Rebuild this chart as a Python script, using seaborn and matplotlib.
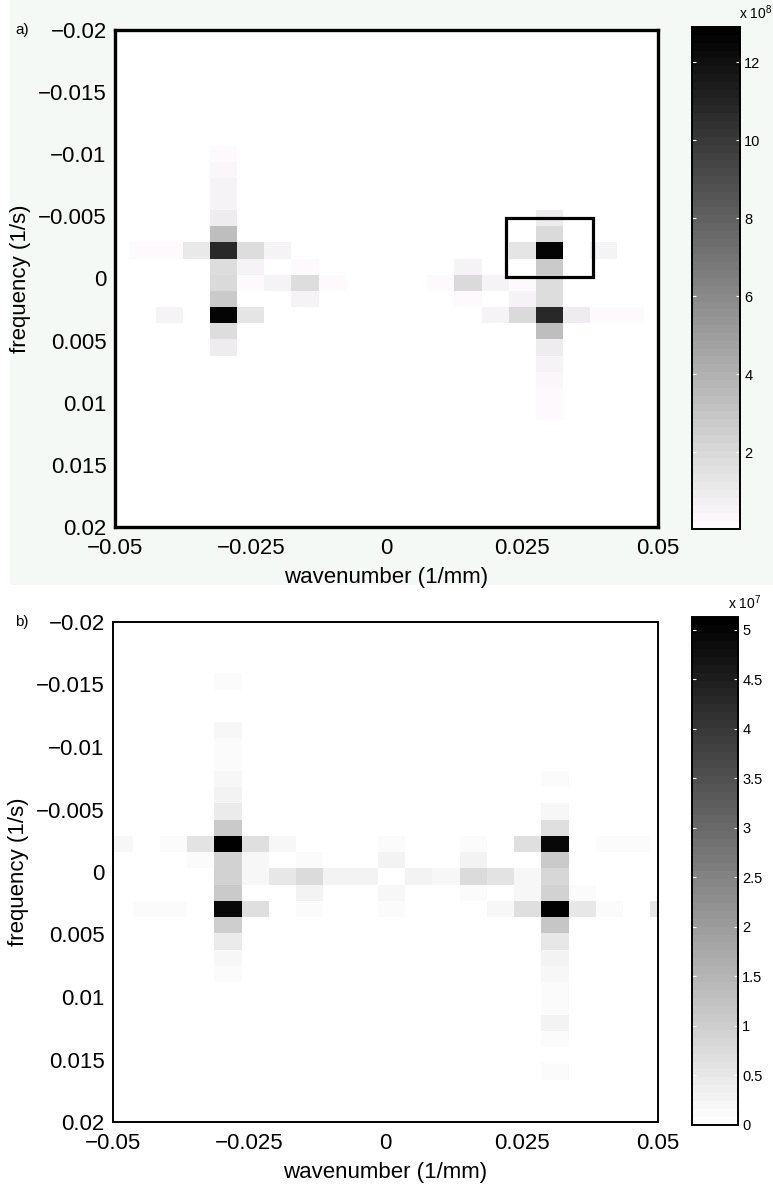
import numpy as np
import pandas as pd
import matplotlib
matplotlib.use("Agg")
import matplotlib.pyplot as plt
import seaborn as sns
from matplotlib.colors import ListedColormap
from matplotlib.patches import Rectangle

plt.rcParams['font.family'] = ['Liberation Sans', 'DejaVu Sans']
plt.rcParams['mathtext.fontset'] = 'custom'
plt.rcParams['mathtext.rm'] = 'Liberation Sans'
plt.rcParams['axes.unicode_minus'] = True

# ---------------- grid definition ----------------
k_index = np.arange(-10, 11)          # wavenumber bin index
n_index = np.arange(-16, 16)          # frequency bin index
wn_step = 0.005                       # 1/mm
fq_step = 0.0013                      # 1/s
fq_offset = 0.00035
wn_offset_a = 0.0
wn_offset_b = 0.0011

x_ticks = [-0.05, -0.025, 0, 0.025, 0.05]
x_tick_labels = ["\u22120.05", "\u22120.025", "0", "0.025", "0.05"]
y_ticks = [-0.02, -0.015, -0.01, -0.005, 0, 0.005, 0.01, 0.015, 0.02]
y_tick_labels = ["\u22120.02", "\u22120.015", "\u22120.01", "\u22120.005", "0",
                 "0.005", "0.01", "0.015", "0.02"]

# ---------------- panel a (x 1e8) ----------------
a_k = [-6, -6, -6, -6, -6, -6, -6, -6, -6, -6, -6, -6, -6,
       -9, -8, -7, -5, -4,
       -5, -3,
       -5, -4, -3, -2,
       -3,
       -8, -5,
       6, 6, 6, 6, 6, 6, 6, 6, 6, 6, 6, 6, 6,
       5, 8,
       3,
       2, 3, 4, 5,
       3, 5,
       4, 5, 7, 8, 9]
a_n = [-8, -7, -6, -5, -4, -3, -2, -1, 0, 1, 2, 3, 4,
       -2, -2, -2, -2, -2,
       -1, -1,
       0, 0, 0, 0,
       1,
       2, 2,
       -4, -3, -2, -1, 0, 1, 2, 3, 4, 5, 6, 7, 8,
       -2, -2,
       -1,
       0, 0, 0, 0,
       1, 1,
       2, 2, 2, 2, 2]
a_amp = [0.2, 0.25, 0.6, 0.6, 1.0, 3.3, 10.8, 1.8, 1.9, 2.8, 12.6, 1.8, 1.0,
         0.2, 0.2, 1.1, 1.8, 0.5,
         0.5, 0.2,
         0.2, 0.5, 1.8, 0.2,
         0.5,
         0.5, 1.3,
         1.0, 2.0, 12.6, 2.8, 1.8, 1.8, 10.8, 3.4, 1.0, 0.6, 0.3, 0.2, 0.2,
         1.4, 0.5,
         0.5,
         0.2, 1.9, 0.45, 0.2,
         0.2, 0.45,
         0.45, 1.9, 1.0, 0.2, 0.2]
a_vmin, a_vmax = 0.03, 12.9
a_cbar_ticks = [2, 4, 6, 8, 10, 12]
a_box_wn = (0.022, 0.038)
a_box_fq = (-0.0049, -0.0001)

# ---------------- panel b (x 1e7) ----------------
b_k = [-6] * 17 + [-10, -8, -7, -5, -4, 0, 3, 5, 8, 9,
                   -7, -5, -3, 0, 3,
                   -5, -4, -3, -2, -1, 1, 2, 3, 4, 5,
                   -3, 0, 3, 5, 7,
                   -9, -8, -5, -3, 0, 4, 5, 7, 8, 10] + [6] * 17
b_n = [-12, -9, -8, -7, -6, -5, -4, -3, -2, -1, 0, 1, 2, 3, 4, 5, 6] + \
      [-2] * 10 + [-1] * 5 + [0] * 10 + [1] * 5 + [2] * 10 + \
      [-6, -4, -3, -2, -1, 0, 1, 2, 3, 4, 5, 6, 7, 8, 9, 10, 12]
b_amp = [0.14, 0.2, 0.1, 0.1, 0.2, 0.3, 0.45, 1.1, 5.13, 0.95, 0.9, 1.1, 4.9, 1.0, 0.45, 0.2, 0.12,
         0.2, 0.1, 0.6, 0.7, 0.2, 0.1, 0.1, 0.7, 0.1, 0.1,
         0.1, 0.2, 0.1, 0.25, 0.3,
         0.2, 0.55, 0.8, 0.25, 0.3, 0.3, 0.2, 0.8, 0.6, 0.2,
         0.25, 0.2, 0.1, 0.2, 0.1,
         0.1, 0.1, 0.7, 0.1, 0.1, 0.2, 0.7, 0.55, 0.1, 0.5,
         0.1, 0.2, 0.7, 4.9, 1.1, 0.85, 0.9, 5.13, 1.15, 0.5, 0.25, 0.2, 0.15, 0.15, 0.3, 0.1, 0.12]
b_vmin, b_vmax = 0.0, 5.13
b_cbar_ticks = [0, 0.5, 1, 1.5, 2, 2.5, 3, 3.5, 4, 4.5, 5]


def build(ks, ns, amps, wn_off):
    grid = np.zeros((len(n_index), len(k_index)))
    for k, n, v in zip(ks, ns, amps):
        grid[n - n_index[0], k - k_index[0]] = v
    return pd.DataFrame(grid,
                        index=np.round(fq_offset + n_index * fq_step, 6),
                        columns=np.round(wn_off + k_index * wn_step, 4))


def wx(w, off):
    return (w - (off + k_index[0] * wn_step)) / wn_step + 0.5


def fy(f):
    return (f - (fq_offset + n_index[0] * fq_step)) / fq_step + 0.5


# colormaps (64 discrete levels)
t = np.linspace(0, 1, 64)
g = 1 - t
tint = 4 / 255 * np.exp(-t / 0.06)
base = np.clip(g - 0.006 * (1 - t) ** 6, 0, 1)
cmap_a = ListedColormap(np.column_stack([base, np.clip(base - tint, 0, 1), base]))
cmap_b = ListedColormap(np.column_stack([g, g, g]))

fig = plt.figure(figsize=(7.73, 11.87), dpi=100)
fig.patch.set_facecolor('white')
fig.add_artist(Rectangle((10 / 773, 1 - 585 / 1187), 1 - 10 / 773, 585 / 1187,
                         transform=fig.transFigure, facecolor='#f5f9f6',
                         edgecolor='none', zorder=-10))

ax_a = fig.add_axes([115 / 773, 1 - 527 / 1187, 543 / 773, 497 / 1187])
cax_a = fig.add_axes([692 / 773, 1 - 529 / 1187, 48 / 773, 502 / 1187])
ax_b = fig.add_axes([113 / 773, 1 - 1122 / 1187, 545 / 773, 500 / 1187])
cax_b = fig.add_axes([692 / 773, 1 - 1125 / 1187, 46 / 773, 508 / 1187])

panels = [
    (ax_a, cax_a, build(a_k, a_n, a_amp, wn_offset_a), wn_offset_a, cmap_a,
     a_vmin, a_vmax, a_cbar_ticks, 2.4, r'x 10$^{8}$', 0.97, 'a)', 30),
    (ax_b, cax_b, build(b_k, b_n, b_amp, wn_offset_b), wn_offset_b, cmap_b,
     b_vmin, b_vmax, b_cbar_ticks, 1.4, r'x 10$^{7}$', 0.78, 'b)', 622),
]

for ax, cax, df, off, cmap, vmin, vmax, cticks, lw, exp_txt, exp_x, tag, tag_y in panels:
    sns.heatmap(df, ax=ax, cmap=cmap, vmin=vmin, vmax=vmax, mask=(df == 0),
                cbar_ax=cax, xticklabels=False, yticklabels=False,
                cbar_kws=dict(ticks=cticks))
    ax.set_facecolor('white')
    ax.set_xlim(wx(-0.05, off), wx(0.05, off))
    ax.set_ylim(fy(0.02), fy(-0.02))
    ax.set_xticks([wx(v, off) for v in x_ticks])
    ax.set_xticklabels(x_tick_labels)
    ax.set_yticks([fy(v) for v in y_ticks])
    ax.set_yticklabels(y_tick_labels, rotation=0)
    ax.tick_params(axis='both', length=0, labelsize=16)
    ax.tick_params(axis='x', pad=8)
    ax.tick_params(axis='y', pad=6)
    for sp in ax.spines.values():
        sp.set_visible(True)
        sp.set_linewidth(lw)
        sp.set_color('black')
    ax.set_xlabel('wavenumber (1/mm)', fontsize=16)
    ax.set_ylabel('frequency (1/s)', fontsize=16)
    ax.xaxis.set_label_coords(0.5, -0.08)
    ax.yaxis.set_label_coords(-0.155, 0.5)

    cb = ax.collections[0].colorbar
    cb.outline.set_visible(True)
    cb.outline.set_linewidth(1.4)
    cb.outline.set_edgecolor('black')
    cax.tick_params(axis='y', direction='in', length=3, color='white',
                    left=True, right=True, labelsize=10.5, pad=3)
    cax.set_yticklabels([f'{v:g}' for v in cticks])
    cax.text(exp_x, 1.01, exp_txt, transform=cax.transAxes, fontsize=10,
             ha='left', va='bottom')
    fig.text(15 / 773, 1 - tag_y / 1187, tag, fontsize=11, ha='left', va='center')

# highlight box around the strongest peak in panel a
x0, x1 = wx(a_box_wn[0], wn_offset_a), wx(a_box_wn[1], wn_offset_a)
y0, y1 = fy(a_box_fq[0]), fy(a_box_fq[1])
ax_a.add_patch(Rectangle((x0, y0), x1 - x0, y1 - y0, fill=False,
                         edgecolor='black', linewidth=2.3, zorder=5))

fig.savefig('out.png', dpi=100, facecolor=fig.get_facecolor())
